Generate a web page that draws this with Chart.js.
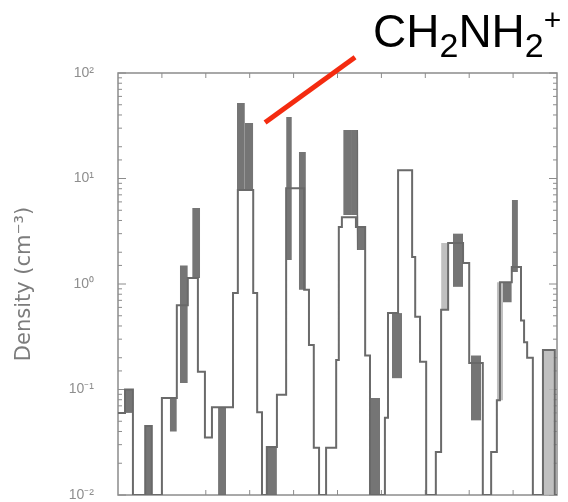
<!DOCTYPE html>
<html>
<head>
<meta charset="utf-8">
<script src="https://cdn.jsdelivr.net/npm/chart.js@4/dist/chart.umd.min.js"></script>
<style>
  html, body { margin: 0; padding: 0; background: #fff; }
  #wrap { position: relative; width: 568px; height: 502px; }
  #ion {
    position: absolute; left: 373px; top: 8px;
    font-family: 'Liberation Sans', Arial, sans-serif;
    font-size: 46px; line-height: 46px; color: #000; white-space: nowrap;
  }
  #ion .sb { font-size: 34px; position: relative; top: 10px; }
  #ion .sp { font-size: 30px; position: relative; top: -17px; }
</style>
</head>
<body>
<div id="wrap">
  <canvas id="c" width="568" height="502"></canvas>
  <div id="ion">CH<span class="sb">2</span>NH<span class="sb">2</span><span class="sp">+</span></div>
</div>
<script>
  // step outline: left edge of each bin and its density (cm^-3)
  const binEdges = [0, 1.6, 3.4, 6.2, 7.7, 10.0, 13.4, 15.9, 18.2, 19.8, 21.4, 26.2, 27.3, 30.8, 31.7, 32.8,
    33.9, 36.2, 38.3, 42.4, 43.5, 44.6, 45.8, 47.4, 49.7, 50.3, 51.0, 54.2, 56.3, 57.4, 60.8, 61.5, 63.8,
    67.0, 67.7, 68.8, 70.2, 72.4, 73.6, 75.2, 78.6, 80.0, 83.1, 85.0, 86.3, 87.0, 89.7, 91.8, 92.5, 93.2,
    94.5, 96.8, 99.5, 100];
  const density = [0.06, 0.1, 0.01, 0.045, 0.01, 0.083, 0.63, 1.14, 0.147, 0.035, 0.068, 0.82, 7.8, 0.82, 0.061, 0.01,
    0.0285, 0.089, 8.1, 0.88, 0.264, 0.028, 0.01, 0.028, 0.19, 3.47, 4.3, 3.47, 0.21, 0.01, 0.054, 0.53, 12,
    1.8, 0.49, 0.183, 0.01, 0.0256, 0.57, 2.45, 1.58, 0.178, 0.01, 0.0256, 0.079, 1.04, 1.45, 0.45, 0.28, 0.2,
    0.01, 0.237, 0.01, 0.01];

  // dark ranges: [from, to] in x, low and high density
  const rangeFrom = [1.6, 6.2, 11.8, 14.1, 16.9, 22.8, 27.1, 28.9, 33.9, 38.3, 41.2, 51.3, 53.3, 54.4, 57.4, 62.4, 76.3, 80.4, 87.7, 89.7];
  const rangeTo =   [3.4, 7.7, 13.4, 15.9, 18.7, 24.6, 28.9, 30.8, 36.2, 39.6, 42.8, 53.3, 54.7, 56.3, 59.7, 64.7, 78.6, 82.7, 89.7, 91.1];
  const rangeLow =  [0.06, 0.01, 0.04, 0.115, 1.14, 0.01, 7.8, 7.8, 0.01, 1.69, 0.88, 4.5, 4.5, 2.1, 0.01, 0.128, 0.94, 0.051, 0.67, 1.3];
  const rangeHigh = [0.1, 0.045, 0.083, 1.5, 5.25, 0.068, 52, 33.6, 0.0285, 38.3, 17.8, 28.8, 28.8, 3.47, 0.083, 0.53, 3.0, 0.21, 1.04, 6.25];

  // light ranges
  const lightFrom = [73.6, 86.3, 96.8];
  const lightTo = [75.2, 87.7, 99.5];
  const lightLow = [0.57, 0.079, 0.01];
  const lightHigh = [2.45, 1.04, 0.237];

  const yTickValues = [0.01, 0.1, 1, 10, 100];
  const yTickLabels = ['10⁻²', '10⁻¹', '10⁰', '10¹', '10²'];

  // pointer from the peak to the label
  const pointerX = [33.5, 54.0];
  const pointerY = [34, 141];

  function bandLine(from, to, vals) {
    const pts = [];
    for (let i = 0; i < from.length; i++) {
      pts.push({ x: from[i], y: vals[i] }, { x: to[i], y: vals[i] }, { x: (to[i] + (from[i + 1] ?? to[i] + 1)) / 2, y: null });
    }
    return pts;
  }

  const outline = binEdges.map((x, i) => ({ x, y: density[i] }));
  const pointer = pointerX.map((x, i) => ({ x, y: pointerY[i] }));

  const isDecade = (v) => Math.abs(Math.log10(v) - Math.round(Math.log10(v))) < 1e-6;

  const framePlugin = {
    id: 'frame',
    beforeDatasetsDraw(chart) {
      const { ctx, chartArea: a, scales: { x, y } } = chart;
      ctx.save();
      ctx.strokeStyle = '#8c8c8c';
      ctx.lineWidth = 1.5;
      ctx.strokeRect(a.left, a.top, a.right - a.left, a.bottom - a.top);
      ctx.lineWidth = 1;
      ctx.beginPath();
      for (const t of y.ticks) {
        const py = y.getPixelForValue(t.value);
        const len = isDecade(t.value) ? 8 : 4;
        ctx.moveTo(a.left, py); ctx.lineTo(a.left + len, py);
        ctx.moveTo(a.right, py); ctx.lineTo(a.right - len, py);
      }
      for (let v = 10; v < 100; v += 10) {
        const px = x.getPixelForValue(v);
        ctx.moveTo(px, a.top); ctx.lineTo(px, a.top + 5);
        ctx.moveTo(px, a.bottom); ctx.lineTo(px, a.bottom - 5);
      }
      ctx.stroke();
      ctx.restore();
    }
  };

  new Chart(document.getElementById('c'), {
    type: 'line',
    data: {
      datasets: [
        {
          label: 'low', data: bandLine(rangeFrom, rangeTo, rangeLow), stepped: true,
          borderWidth: 0, pointRadius: 0, spanGaps: false, fill: false, order: 1
        },
        {
          label: 'high', data: bandLine(rangeFrom, rangeTo, rangeHigh), stepped: true,
          borderWidth: 0, pointRadius: 0, spanGaps: false, fill: '-1',
          backgroundColor: 'rgba(105,105,105,0.92)', order: 1
        },
        {
          label: 'lightLow', data: bandLine(lightFrom, lightTo, lightLow), stepped: true,
          borderWidth: 0, pointRadius: 0, spanGaps: false, fill: false, order: 3
        },
        {
          label: 'lightHigh', data: bandLine(lightFrom, lightTo, lightHigh), stepped: true,
          borderWidth: 0, pointRadius: 0, spanGaps: false, fill: '-1',
          backgroundColor: 'rgba(185,185,185,0.9)', order: 3
        },
        {
          label: 'Density', data: outline, stepped: true,
          borderColor: '#6a6a6a', borderWidth: 2, pointRadius: 0, fill: false, order: 2
        },
        {
          label: 'pointer', data: pointer, borderColor: '#f42b10', borderWidth: 5,
          borderCapStyle: 'butt', pointRadius: 0, fill: false, clip: false, order: 0
        }
      ]
    },
    options: {
      responsive: false,
      animation: false,
      layout: { padding: { left: 0, right: 11, top: 73, bottom: 7 } },
      plugins: { legend: { display: false }, tooltip: { enabled: false } },
      scales: {
        x: { type: 'linear', min: 0, max: 100, display: false },
        y: {
          type: 'logarithmic', min: 0.01, max: 100,
          grid: { display: false, drawTicks: false },
          border: { display: false },
          afterFit: (scale) => {
            scale.width = 118;
            scale.paddingTop = 0;
            scale.paddingBottom = 0;
          },
          ticks: {
            autoSkip: false, padding: 24, color: '#8e8e8e',
            font: { family: 'Liberation Sans', size: 14 },
            callback: (v) => {
              const i = yTickValues.findIndex((t) => Math.abs(t - v) / t < 1e-6);
              return i >= 0 ? yTickLabels[i] : '';
            }
          },
          title: {
            display: true, text: 'Density (cm⁻³)', color: '#7c7c7c',
            font: { family: 'DejaVu Sans', size: 21 }, padding: { top: 12, bottom: 0 }
          }
        }
      }
    },
    plugins: [framePlugin]
  });
</script>
</body>
</html>
